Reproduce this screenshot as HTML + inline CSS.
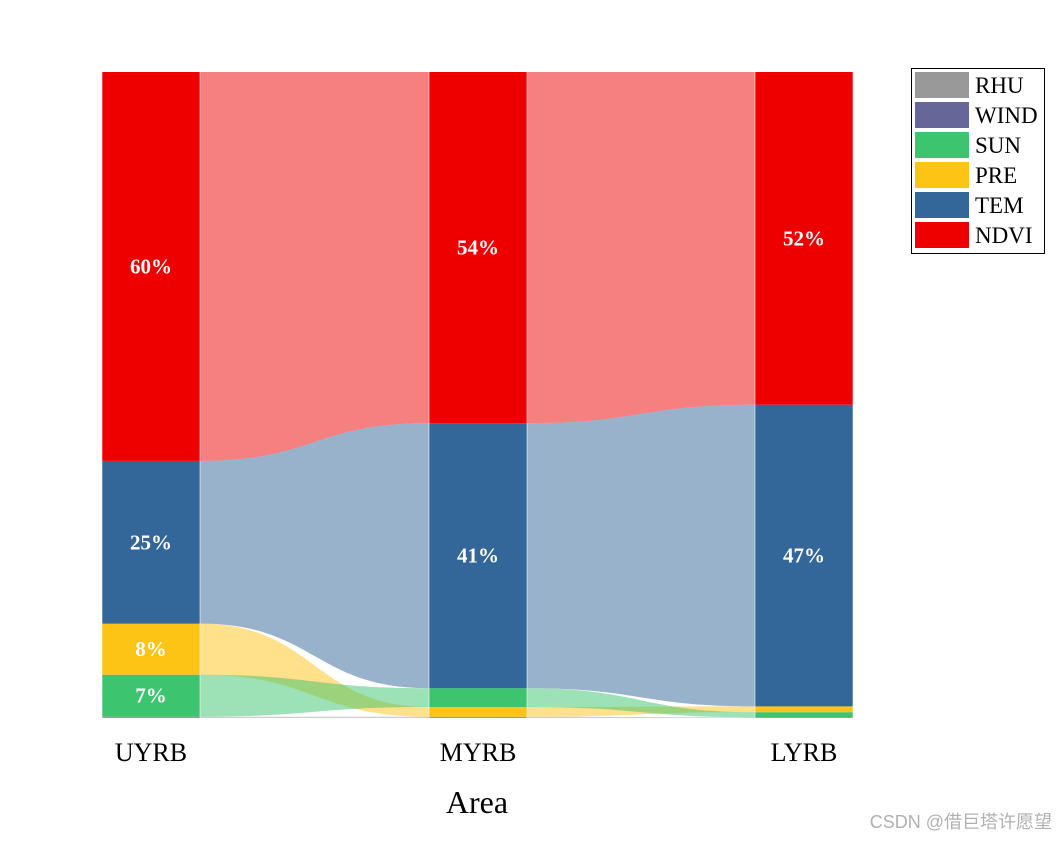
<!DOCTYPE html>
<html><head><meta charset="utf-8"><style>
body{margin:0;background:#fff;width:1058px;height:838px;overflow:hidden}
svg text{font-family:"Liberation Serif",serif}
</style></head><body>
<svg id="c" width="1058" height="838"></svg>
<script>
const stages=["UYRB","MYRB","LYRB"];
const categories=["RHU","WIND","SUN","PRE","TEM","NDVI"];
const colors={RHU:"#999999",WIND:"#666699",SUN:"#3cc46f",PRE:"#fec415",TEM:"#336699",NDVI:"#ee0000"};
const RHU=[0.2,0.2,0.1];
const WIND=[0,0,0];
const SUN=[6.5,2.9,0.8];
const PRE=[7.9,1.5,0.9];
const TEM=[25.2,41,46.7];
const NDVI=[60.2,54.3,51.5];
const vals={RHU,WIND,SUN,PRE,TEM,NDVI};
const NS="http://www.w3.org/2000/svg";
const svg=document.getElementById('c');
const plotTop=72,plotBot=718,barW=98;
const barX=[102,429,755];
function el(t,a,p){const e=document.createElementNS(NS,t);for(const k in a)e.setAttribute(k,a[k]);(p||svg).appendChild(e);return e;}
const pos=stages.map((s,i)=>{
  const tot=categories.reduce((a,c)=>a+vals[c][i],0);
  const order=categories.slice().sort((a,b)=>vals[a][i]-vals[b][i]);
  let cum=0;const r={};
  order.forEach(c=>{const h=vals[c][i]/tot*(plotBot-plotTop);r[c]={y1:plotBot-cum-h,y0:plotBot-cum};cum+=h;});
  return r;
});
for(let i=0;i<stages.length-1;i++){
  const xa=barX[i]+barW,xb=barX[i+1],xm=(xa+xb)/2;
  ["NDVI","TEM","PRE","SUN","WIND","RHU"].forEach(c=>{
    const a=pos[i][c],b=pos[i+1][c];
    const d=`M${xa},${a.y1} C${xm},${a.y1} ${xm},${b.y1} ${xb},${b.y1} L${xb},${b.y0} C${xm},${b.y0} ${xm},${a.y0} ${xa},${a.y0} Z`;
    const p=el('path',{d,fill:colors[c],'fill-opacity':0.5});
    
    
  });
}
stages.forEach((s,i)=>{
  categories.forEach(c=>{
    const r=pos[i][c];if(r.y0-r.y1<=0)return;
    const b=el('rect',{x:barX[i],y:r.y1,width:barW,height:r.y0-r.y1,fill:colors[c]});
    
    
    if(vals[c][i]>=5){
      const t=el('text',{x:barX[i]+barW/2,y:(r.y0+r.y1)/2+7,'text-anchor':'middle',fill:'#fff','font-size':21,'font-weight':'bold'});
      t.textContent=Math.round(vals[c][i])+'%';
      
      
    }
  });
  el('line',{x1:barX[i],x2:barX[i],y1:plotTop,y2:plotBot,stroke:'#fff','stroke-width':0.8,'stroke-opacity':0.7});
  el('line',{x1:barX[i]+barW,x2:barX[i]+barW,y1:plotTop,y2:plotBot,stroke:'#fff','stroke-width':0.8,'stroke-opacity':0.7});
  const t=el('text',{x:barX[i]+barW/2,y:761,'text-anchor':'middle','font-size':26,fill:'#000'});
  t.textContent=s;
  
  
});
const at=el('text',{x:477,y:813,'text-anchor':'middle','font-size':32,fill:'#000'});
at.textContent='Area';


const lg=el('g',{});


el('rect',{x:911.5,y:68.5,width:133,height:185,fill:'#fff',stroke:'#000','stroke-width':1},lg);
categories.forEach((c,k)=>{
  const y=72+k*30;
  const r=el('rect',{x:915,y:y,width:54,height:26,fill:colors[c]},lg);
  
  
  const t=el('text',{x:975,y:y+21,'font-size':23,fill:'#000'},lg);
  t.textContent=c;
  
  
});
const wm=el('text',{x:1052,y:828,'text-anchor':'end','font-size':18,fill:'#b0b0b0',style:'font-family:"Liberation Sans","Noto Sans CJK SC",sans-serif'});
wm.textContent='CSDN @借巨塔许愿望';


</script>
</body></html>
